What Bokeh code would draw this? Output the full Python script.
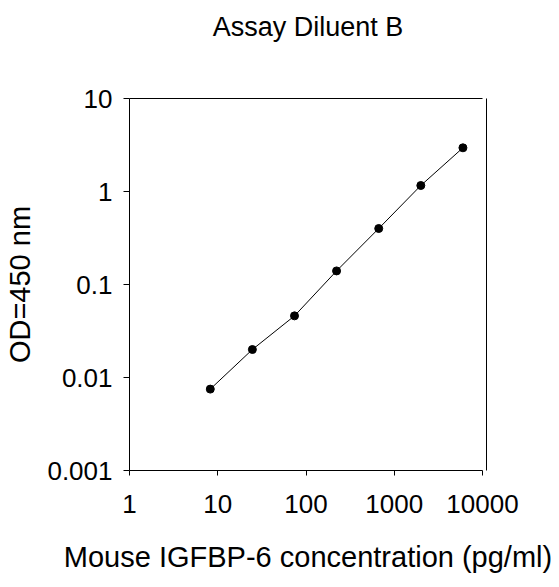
from bokeh.plotting import figure
from bokeh.models import Range1d, FixedTicker, LogAxis, ColumnDataSource
from bokeh.embed import file_html
from bokeh.resources import INLINE

# Data
concentration = [8.23, 24.7, 74.1, 222.0, 667.0, 2000.0, 6000.0]
od450 = [0.0075, 0.020, 0.046, 0.14, 0.40, 1.16, 2.95]

x_ticks = [1, 10, 100, 1000, 10000]
x_tick_labels = ["1", "10", "100", "1000", "10000"]
y_ticks = [0.001, 0.01, 0.1, 1, 10]
y_tick_labels = ["0.001", "0.01", "0.1", "1", "10"]

title_text = "Assay Diluent B"
x_label = "Mouse IGFBP-6 concentration (pg/ml)"
y_label = "OD=450 nm"

FONT = "Liberation Sans"

p = figure(width=557, height=586, x_axis_type="log", y_axis_type="log",
           x_range=Range1d(1, 11100), y_range=Range1d(0.001, 10),
           output_backend="svg", toolbar_location=None,
           min_border_left=129, min_border_right=71,
           min_border_top=98, min_border_bottom=116)

p.outline_line_color = None
p.grid.visible = False
p.background_fill_color = "white"
p.border_fill_color = "white"

src = ColumnDataSource(dict(x=concentration, y=od450))
p.line("x", "y", source=src, line_color="black", line_width=1)
p.scatter("x", "y", source=src, size=8, fill_color="black", line_color="black")

# Bottom axis
xa = p.xaxis[0]
xa.ticker = FixedTicker(ticks=x_ticks, minor_ticks=[])
xa.major_label_overrides = dict(zip(x_ticks, x_tick_labels))
xa.bounds = (1, 10000)
xa.axis_line_color = "black"
xa.major_tick_line_color = "black"
xa.major_tick_in = 0
xa.major_tick_out = 5
xa.minor_tick_line_color = None
xa.major_label_text_font = FONT
xa.major_label_text_font_size = "26px"
xa.major_label_text_color = "black"
xa.major_label_standoff = 19
xa.axis_label = x_label
xa.axis_label_text_font = FONT
xa.axis_label_text_font_size = "29px"
xa.axis_label_text_font_style = "normal"
xa.axis_label_text_color = "black"
xa.axis_label_standoff = 25

# Left axis
ya = p.yaxis[0]
ya.ticker = FixedTicker(ticks=y_ticks, minor_ticks=[])
ya.major_label_overrides = dict(zip(y_ticks, y_tick_labels))
ya.axis_line_color = "black"
ya.major_tick_line_color = "black"
ya.major_tick_in = 0
ya.major_tick_out = 6
ya.minor_tick_line_color = None
ya.major_label_text_font = FONT
ya.major_label_text_font_size = "26px"
ya.major_label_text_color = "black"
ya.major_label_standoff = 11
ya.axis_label = y_label
ya.axis_label_text_font = FONT
ya.axis_label_text_font_size = "29px"
ya.axis_label_text_font_style = "normal"
ya.axis_label_text_color = "black"
ya.axis_label_standoff = 8

# Top frame line, carrying the chart title as its label
top = LogAxis(ticker=FixedTicker(ticks=[], minor_ticks=[]), bounds=(1, 10000))
top.major_tick_in = 0
top.major_tick_out = 0
top.major_label_standoff = 0
top.axis_line_color = "black"
top.axis_label = title_text
top.axis_label_text_font = FONT
top.axis_label_text_font_size = "27px"
top.axis_label_text_font_style = "normal"
top.axis_label_text_color = "black"
top.axis_label_standoff = 57
p.add_layout(top, "above")

# Right frame line
right = LogAxis(ticker=FixedTicker(ticks=[], minor_ticks=[]))
right.major_tick_in = 0
right.major_tick_out = 0
right.axis_line_color = "black"
p.add_layout(right, "right")

open("out.html", "w").write(file_html(p, INLINE))
